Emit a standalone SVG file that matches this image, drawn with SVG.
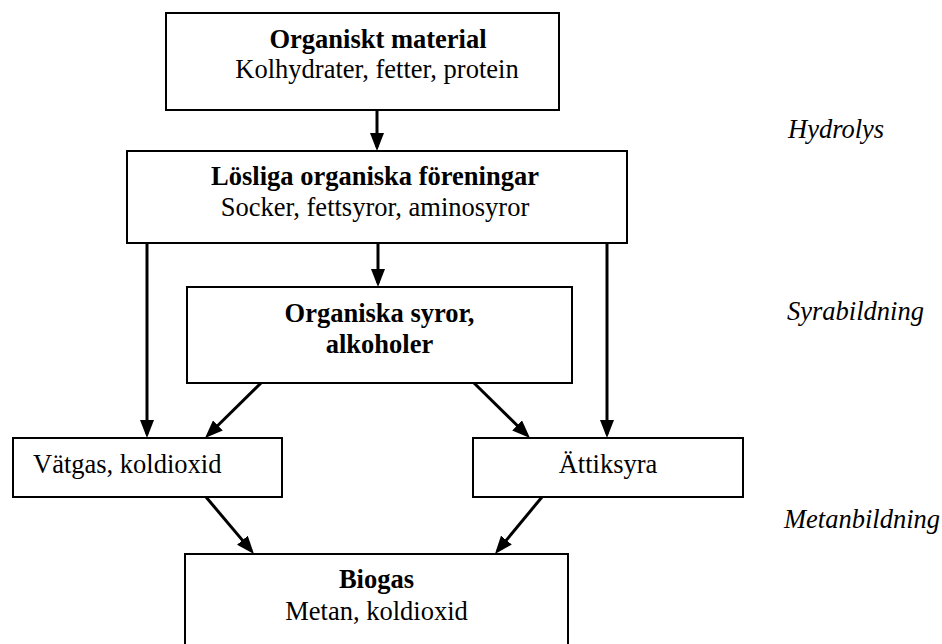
<svg xmlns="http://www.w3.org/2000/svg" width="942" height="644" viewBox="0 0 942 644">
  <style>
    .box { fill: #ffffff; stroke: #000000; stroke-width: 2; }
    .t { font-family: "Liberation Serif", "Times New Roman", serif; font-size: 26.5px; fill: #000000; }
    .b { font-weight: bold; }
    .c { text-anchor: middle; }
    .i { font-style: italic; }
    .arrow { stroke: #000000; stroke-width: 3; fill: none; marker-end: url(#head); }
  </style>
  <defs>
    <marker id="head" markerUnits="userSpaceOnUse" markerWidth="18" markerHeight="14" refX="14" refY="7" orient="auto">
      <path d="M0,0 L18,7 L0,14 z" fill="#000000"/>
    </marker>
  </defs>
  <rect width="942" height="644" fill="#ffffff"/>

  <g id="organiskt-material">
    <rect class="box" x="166" y="13" width="393" height="97"/>
    <text class="t b c" x="378" y="48">Organiskt material</text>
    <text class="t c" x="377" y="78">Kolhydrater, fetter, protein</text>
  </g>

  <g id="losliga-foreningar">
    <rect class="box" x="127" y="151" width="500" height="92"/>
    <text class="t b c" x="375" y="185">Lösliga organiska föreningar</text>
    <text class="t c" x="375" y="216">Socker, fettsyror, aminosyror</text>
  </g>

  <g id="organiska-syror">
    <rect class="box" x="187" y="287" width="385" height="96"/>
    <text class="t b c" x="379.5" y="322">Organiska syror,</text>
    <text class="t b c" x="379.5" y="353">alkoholer</text>
  </g>

  <g id="vatgas">
    <rect class="box" x="13" y="438" width="269" height="59"/>
    <text class="t" x="33" y="473">Vätgas, koldioxid</text>
  </g>

  <g id="attiksyra">
    <rect class="box" x="473" y="438" width="270" height="59"/>
    <text class="t c" x="608" y="473">Ättiksyra</text>
  </g>

  <g id="biogas">
    <rect class="box" x="185" y="554" width="383" height="110"/>
    <text class="t b c" x="376.5" y="588">Biogas</text>
    <text class="t c" x="376.5" y="620">Metan, koldioxid</text>
  </g>

  <g id="steg">
    <text class="t i" x="788" y="138">Hydrolys</text>
    <text class="t i" x="787" y="320">Syrabildning</text>
    <text class="t i" x="784" y="528">Metanbildning</text>
  </g>

  <g id="connectors">
    <line class="arrow" x1="377" y1="110" x2="377" y2="147"/>
    <line class="arrow" x1="378" y1="243" x2="378" y2="283"/>
    <line class="arrow" x1="147" y1="243" x2="147" y2="434"/>
    <line class="arrow" x1="607" y1="243" x2="607" y2="434"/>
    <line class="arrow" x1="261" y1="383" x2="207.9" y2="435.2"/>
    <line class="arrow" x1="474" y1="383" x2="527.1" y2="435.2"/>
    <line class="arrow" x1="206" y1="497" x2="251.4" y2="550.9"/>
    <line class="arrow" x1="542" y1="497" x2="497.5" y2="550.9"/>
  </g>
</svg>
